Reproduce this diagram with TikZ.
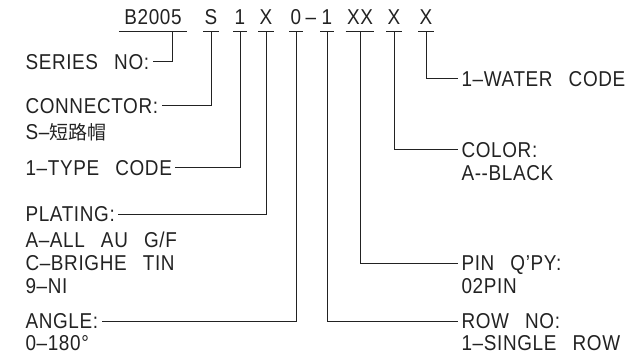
\documentclass[tikz,border=0pt]{standalone}
\usepackage{fontspec}
\setmainfont{Liberation Sans}[FakeStretch=0.88, LetterSpace=3]
\newfontfamily\cjk{Noto Sans CJK SC}
\usetikzlibrary{positioning}
\definecolor{ink}{HTML}{222222}
\newcommand\wsp{\hspace{0.75em}}

\begin{document}
\begin{tikzpicture}[x=1pt, y=-1pt, line width=1pt, color=ink,
    every node/.style={font=\fontsize{21.5}{24}\selectfont},
    code/.style={anchor=base, inner xsep=1pt, inner ysep=6pt, text depth=0pt},
    lbl/.style={anchor=west, inner xsep=3pt, inner ysep=0pt, text height=15.4pt, text depth=0pt}]
    \useasboundingbox (0,0) rectangle (644,363);

    \node[code, inner xsep=5pt] (ser) at (153,25) {B2005};
    \node[code] (con) at (211,25) {S};
    \node[code] (typ) at (240,25) {1};
    \node[code] (pla) at (266,25) {X};
    \node[code] (ang) at (296,25) {0};
    \node[code] (hyp) at (311,25) {--};
    \node[code] (row) at (327,25) {1};
    \node[code] (pin) at (360,25) {XX};
    \node[code] (col) at (394,25) {X};
    \node[code] (wat) at (426,25) {X};

    \node[lbl] (sern) at (22,62) {SERIES\wsp NO:};
    \node[lbl] (conn) at (22,106) {CONNECTOR:};
    \node[lbl] (conv) at (22,132) {S--{\cjk\fontsize{19}{20}\selectfont 短路帽}};
    \node[lbl] (typn) at (22,168) {1--TYPE\wsp CODE};
    \node[lbl] (plan) at (22,214) {PLATING:};
    \node[lbl] (plav1) at (22,240) {A--ALL\wsp AU\wsp G/F};
    \node[lbl] (plav2) at (22,263) {C--BRIGHE\wsp TIN};
    \node[lbl] (plav3) at (22,286) {9--NI};
    \node[lbl] (angn) at (22,321) {ANGLE:};
    \node[lbl] (angv) at (22,343) {0--180°};

    \node[lbl] (watn) at (458,79) {1--WATER\wsp CODE};
    \node[lbl] (coln) at (458,150) {COLOR:};
    \node[lbl] (colv) at (458,173) {A-{}-BLACK};
    \node[lbl] (pinn) at (458,263) {PIN\wsp Q’PY:};
    \node[lbl] (pinv) at (458,286) {02PIN};
    \node[lbl] (rown) at (458,321) {ROW\wsp NO:};
    \node[lbl] (rowv) at (458,343) {1--SINGLE\wsp ROW};

    \foreach \c in {ser,con,typ,pla,ang,row,pin,col,wat}
      \draw (\c.south west) -- (\c.south east);

    \draw ([xshift=19pt]ser.south) |- (sern.east);
    \draw (con.south) |- (conn.east);
    \draw (typ.south) |- (typn.east);
    \draw (pla.south) |- (plan.east);
    \draw (ang.south) |- (angn.east);
    \draw (row.south) |- (rown.west);
    \draw (pin.south) |- (pinn.west);
    \draw (col.south) |- (coln.west);
    \draw (wat.south) |- (watn.west);
  \end{tikzpicture}
\end{document}
